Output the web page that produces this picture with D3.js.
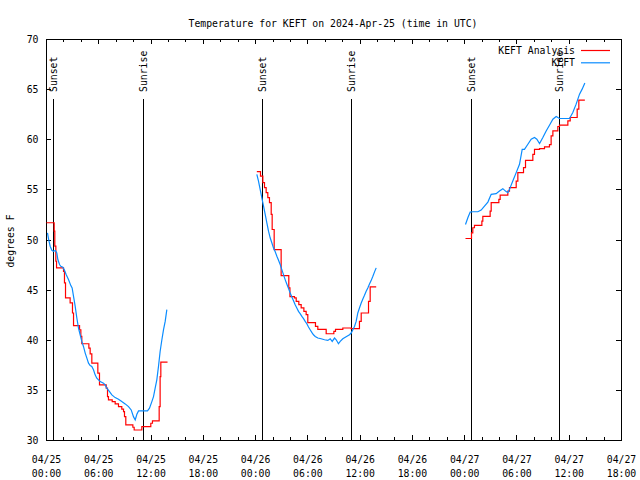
<!DOCTYPE html>
<html><head><meta charset="utf-8">
<script src="https://cdn.jsdelivr.net/npm/d3@7"></script>
<style>
body{margin:0;background:#fff}
svg{display:block;background:#fff}
text{font-family:"DejaVu Sans Mono",monospace;font-size:9.8px;fill:#000}
</style></head><body>
<svg id="c" width="640" height="480"></svg>
<script>
// ---------- data ----------
const title = "Temperature for KEFT on 2024-Apr-25 (time in UTC)";
const yLabel = "degrees F";
const seriesNames = ["KEFT Analysis", "KEFT"];
const seriesColors = ["#ff0000", "#0a8cff"];
const yTicks = [30, 35, 40, 45, 50, 55, 60, 65, 70];
const xDomainHours = [0, 66];             // hours since 2024-04-25 00:00 UTC
const xMajorHours = d3.range(0, 67, 6);
const xMinorHours = d3.range(0, 67, 2).filter(h => h % 6 !== 0);
const sunsetHours = [0.78, 24.78, 48.8];
const sunriseHours = [11.08, 34.98, 58.94];

// KEFT Analysis (red, stepped); null separates the gaps
const analysisHours = [
  0.05,0.94,1.01,1.13,1.21,2.01,2.12,2.24,2.77,3.04,3.16,3.85,4.0,4.11,4.92,5.07,5.26,5.95,6.14,6.91,7.06,7.17,7.6,7.94,8.32,8.7,8.9,9.01,9.16,9.97,10.12,11.0,12.03,12.22,12.99,13.1,13.18,13.95,
  null,
  24.2,24.62,24.89,25.08,25.27,25.46,25.65,25.85,25.96,26.19,26.99,27.87,28.0,28.52,28.72,29.02,29.29,29.6,29.86,30.05,30.93,31.2,32.16,33.04,33.23,34.07,35.03,35.98,36.18,37.02,37.21,37.9,
  null,
  48.15,48.84,48.99,49.18,50.03,50.14,50.98,51.1,51.98,52.13,53.01,53.2,53.97,54.16,54.81,55.04,55.88,56.07,56.65,57.22,57.79,57.98,58.18,58.75,58.94,59.9,60.17,60.97,61.16,61.85
];
const analysisTemps = [
  51.67,50.83,49.33,47.83,47.17,46.83,45.67,44.17,43.67,42.67,41.4,41.0,40.33,39.6,39.17,38.6,37.67,36.67,35.5,35.17,34.33,34.0,33.83,33.6,33.33,33.07,32.83,32.33,31.5,31.27,31.0,31.33,31.67,31.9,33.33,36.33,37.77,37.77,
  null,
  56.77,56.33,55.67,55.17,54.67,54.17,53.67,52.5,51.0,49.0,46.4,45.17,44.3,44.17,43.83,43.5,43.17,42.83,42.5,41.7,41.33,41.03,40.6,40.83,41.03,41.17,41.1,41.83,42.67,43.83,45.27,45.27,
  null,
  50.1,50.67,51.17,51.4,51.83,52.3,52.83,53.67,54.0,54.43,54.83,55.17,55.83,56.67,57.17,57.9,58.5,59.0,59.07,59.23,59.47,60.33,60.83,61.27,61.4,61.83,62.17,63.0,63.9,63.9
];

// KEFT observations (blue)
const obsHours = [
  0.17,0.29,0.48,0.67,0.86,1.09,1.24,1.36,1.55,1.70,1.93,2.09,2.31,2.58,2.85,3.0,3.16,3.35,3.54,3.73,3.92,4.11,4.30,4.50,4.69,4.88,5.07,5.26,5.45,5.64,5.83,6.03,6.22,6.60,6.79,6.98,7.29,7.56,7.94,8.32,8.70,9.09,9.47,9.78,10.04,10.24,10.43,10.62,11.19,11.65,11.88,12.15,12.34,12.53,12.72,12.91,13.1,13.30,13.49,13.68,13.87,
  null,
  24.2,24.39,24.58,24.77,24.97,25.16,25.35,25.54,25.73,25.92,26.11,26.31,26.5,26.69,26.88,27.07,27.26,27.45,27.64,27.84,28.03,28.22,28.41,28.6,28.79,28.98,29.17,29.37,29.56,29.75,29.94,30.13,30.32,30.51,30.7,30.9,31.2,31.58,31.97,32.35,32.62,32.85,33.12,33.31,33.57,33.77,34.07,34.45,34.84,35.03,35.22,35.41,35.6,35.79,35.98,36.18,36.37,36.56,36.75,36.94,37.13,37.32,37.52,37.71,37.9,
  null,
  48.15,48.42,48.69,48.99,49.57,49.95,50.33,50.72,51.1,51.67,52.05,52.44,52.74,53.01,53.2,53.58,53.97,54.35,54.66,54.92,55.31,55.69,56.07,56.34,56.65,57.03,57.41,57.79,58.18,58.56,58.94,59.71,60.09,60.47,60.85,61.24,61.54,61.85
];
const obsTemps = [
  50.67,50.07,49.33,48.93,48.83,48.9,48.67,48.0,47.5,47.33,47.23,47.0,46.5,46.0,45.4,45.17,44.33,43.33,42.17,41.17,40.5,39.83,39.33,38.67,38.17,37.67,37.43,37.33,37.0,36.5,36.17,36.0,35.83,35.67,35.5,35.17,34.83,34.5,34.23,34.07,33.83,33.6,33.33,33.0,32.33,32.0,32.57,32.9,32.9,32.9,33.17,33.83,34.33,35.17,36.0,37.33,38.83,40.0,41.0,41.83,43.0,
  null,
  56.5,55.83,55.0,54.17,53.33,52.5,51.67,50.83,50.17,49.67,49.17,48.77,48.33,47.93,47.5,47.0,46.5,46.0,45.57,45.1,44.67,44.27,43.9,43.5,43.17,42.83,42.6,42.33,42.1,41.83,41.6,41.27,41.0,40.73,40.5,40.33,40.17,40.1,40.0,39.93,40.1,39.83,40.17,40.0,39.6,39.83,40.1,40.3,40.5,40.67,41.0,41.33,41.83,42.67,43.17,43.67,44.07,44.43,44.83,45.17,45.57,45.9,46.33,46.77,47.17,
  null,
  51.5,52.17,52.73,52.77,52.77,52.93,53.33,53.73,54.5,54.57,54.83,55.07,54.83,54.67,55.0,55.83,56.67,57.5,59.0,59.0,59.5,60.0,60.17,60.0,59.57,60.17,60.83,61.4,62.0,62.27,62.07,62.07,62.07,62.67,63.5,64.5,65.0,65.6
];

// ---------- chart ----------
const svg = d3.select("#c");
const L = 46, R = 621, T = 39, B = 440;
const t0 = Date.UTC(2024, 3, 25);
const toDate = h => new Date(t0 + h * 3600e3);
const x = d3.scaleUtc().domain(xDomainHours.map(toDate)).range([L, R]);
const y = d3.scaleLinear().domain([30, 70]).range([B, T]);

// title
svg.append("text").attr("x", 333).attr("y", 27).attr("text-anchor", "middle").text(title);

// axes (ticks inward, mirrored)
const fmtDate = d3.utcFormat("%m/%d"), fmtTime = d3.utcFormat("%H:%M");
const gx = svg.append("g").attr("transform", `translate(0,${B})`)
  .call(d3.axisBottom(x).tickValues(xMajorHours.map(toDate)).tickSizeInner(-5).tickSizeOuter(0).tickPadding(0));
gx.selectAll(".tick text").each(function(d) {
  const t = d3.select(this).text(null).attr("dy", null).attr("y", null);
  t.append("tspan").attr("x", 0).attr("y", 23).text(fmtDate(d));
  t.append("tspan").attr("x", 0).attr("y", 37).text(fmtTime(d));
});
svg.append("g").attr("transform", `translate(0,${B})`)
  .call(d3.axisBottom(x).tickValues(xMinorHours.map(toDate)).tickSizeInner(-3).tickSizeOuter(0).tickFormat(""));
svg.append("g").attr("transform", `translate(0,${T})`)
  .call(d3.axisTop(x).tickValues(xMajorHours.map(toDate)).tickSizeInner(-5).tickSizeOuter(0).tickFormat(""));
svg.append("g").attr("transform", `translate(0,${T})`)
  .call(d3.axisTop(x).tickValues(xMinorHours.map(toDate)).tickSizeInner(-3).tickSizeOuter(0).tickFormat(""));
const gy = svg.append("g").attr("transform", `translate(${L},0)`)
  .call(d3.axisLeft(y).tickValues(yTicks).tickSizeInner(-5).tickSizeOuter(0).tickPadding(7.5));
gy.selectAll(".tick text").attr("dy", "0.36em");
svg.append("g").attr("transform", `translate(${R},0)`)
  .call(d3.axisRight(y).tickValues(yTicks).tickSizeInner(-5).tickSizeOuter(0).tickFormat(""));
svg.selectAll(".domain").remove();
svg.selectAll(".tick line").attr("stroke", "#000").attr("shape-rendering", "crispEdges");
svg.selectAll("g text").attr("font-family", null).attr("font-size", null);

// border
svg.append("rect").attr("x", L + 0.5).attr("y", T + 0.5).attr("width", R - L).attr("height", B - T)
  .attr("fill", "none").attr("stroke", "#000").attr("shape-rendering", "crispEdges");

// y label
svg.append("text").attr("transform", "translate(13.5,241) rotate(-90)")
  .attr("text-anchor", "middle").text(yLabel);

// sunset / sunrise markers
const events = sunsetHours.map(h => ({h, label: "Sunset"}))
  .concat(sunriseHours.map(h => ({h, label: "Sunrise"})));
const ev = svg.append("g").selectAll("g").data(events).join("g");
ev.append("line")
  .attr("x1", d => Math.round(x(toDate(d.h))) + 0.5).attr("x2", d => Math.round(x(toDate(d.h))) + 0.5)
  .attr("y1", 99).attr("y2", B)
  .attr("stroke", "#000").attr("shape-rendering", "crispEdges");
ev.append("text")
  .attr("transform", d => `translate(${Math.round(x(toDate(d.h))) + 0.5},92) rotate(-90)`)
  .attr("dy", "0.36em").text(d => d.label);

// series
const mk = (hs, vs) => hs.map((h, i) => ({h, v: vs[i]}));
const analysis = mk(analysisHours, analysisTemps);
const obs = mk(obsHours, obsTemps);
const plot = svg.append("g");
plot.append("path").datum(analysis)
  .attr("fill", "none").attr("stroke", seriesColors[0]).attr("stroke-width", 1.2)
  .attr("d", d3.line().defined(d => d.h != null).curve(d3.curveStepAfter)
    .x(d => x(toDate(d.h))).y(d => y(d.v)));
plot.append("path").datum(obs)
  .attr("fill", "none").attr("stroke", seriesColors[1]).attr("stroke-width", 1.2)
  .attr("d", d3.line().defined(d => d.h != null)
    .x(d => x(toDate(d.h))).y(d => y(d.v)));

// legend
const lg = svg.append("g").selectAll("g").data(seriesNames).join("g")
  .attr("transform", (d, i) => `translate(0,${50.5 + i * 12.3})`);
lg.append("text").attr("x", 575).attr("dy", "0.36em").attr("text-anchor", "end").text(d => d);
lg.append("line").attr("x1", 581).attr("x2", 610).attr("y1", 0).attr("y2", 0)
  .attr("stroke", (d, i) => seriesColors[i]).attr("stroke-width", 1.2);
</script>
</body></html>
